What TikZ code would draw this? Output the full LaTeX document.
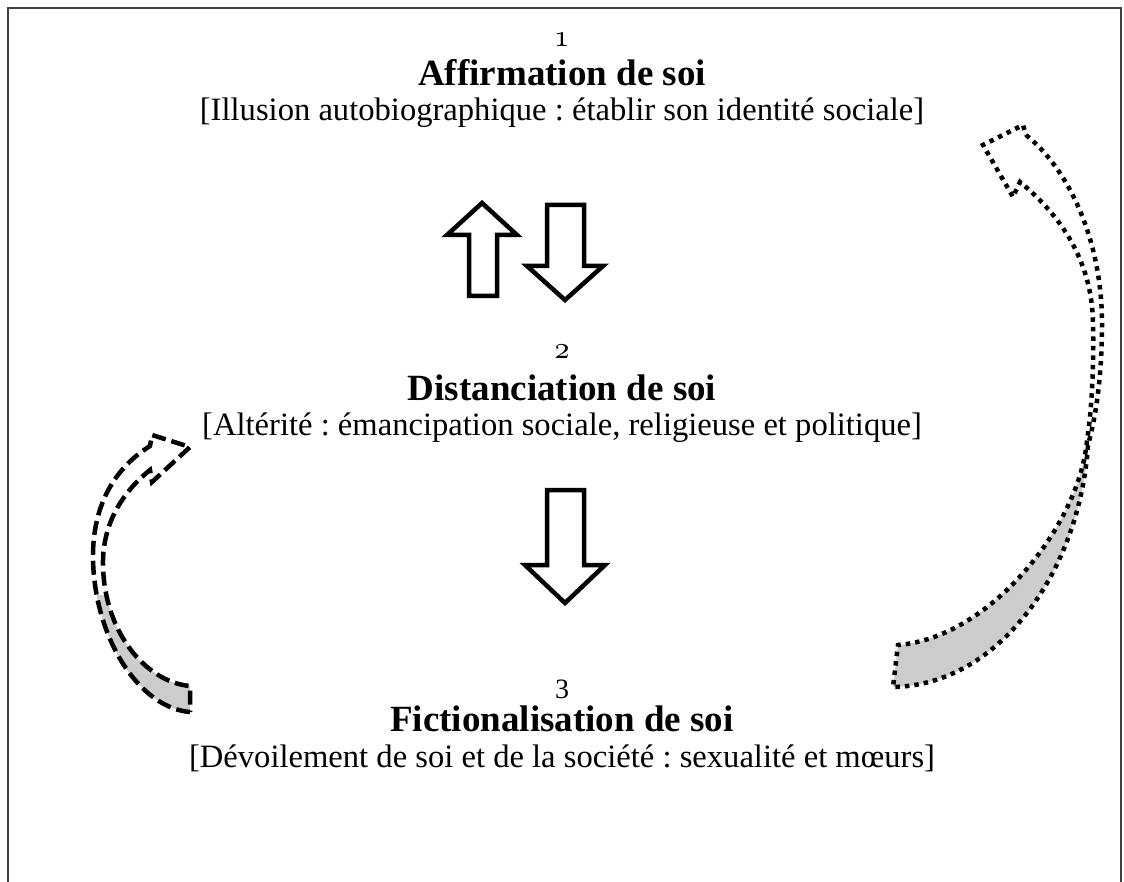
\documentclass[tikz,border=0pt]{standalone}
\usepackage{fontspec}
\setmainfont{Liberation Serif}[BoldFont={Liberation Serif Bold}]
\newfontfamily\oldfig{lmroman10-regular.otf}[Numbers=OldStyle]
\frenchspacing

% outline of the dashed curved arrow on the left
\newcommand\leftbandpath{%
  (190,712) .. controls (140,708) and (95,640) .. (93,560)
  .. controls (92,505) and (115,468) .. (150,446)
  -- (152,435) -- (190,447) -- (152,482) -- (150,470)
  .. controls (125,490) and (104,520) .. (103,560)
  .. controls (102,630) and (145,682) .. (190,686) -- cycle}

% outline of the dotted curved arrow on the right
\newcommand\rightbandpath{%
  (1026,135) .. controls (1075,175) and (1102,250) .. (1102,323)
  .. controls (1102,380) and (1095,420) .. (1088,445)
  .. controls (1080,570) and (1000,685) .. (893,687)
  -- (898,645)
  .. controls (990,638) and (1080,525) .. (1087,440)
  .. controls (1092,410) and (1094,360) .. (1093,323)
  .. controls (1092,260) and (1060,215) .. (1020,182)
  -- (1013,197) -- (983,145) -- (1023,125) -- cycle}

\begin{document}
\begin{tikzpicture}[x=1pt,y=-1pt,
  blockarrow/.style={draw=black,line width=4.5pt,miter limit=10,fill=white},
  framestroke/.style={draw=black!75,line width=1.6pt},
  dashedband/.style={draw=black,line width=4.5pt,dash pattern=on 14pt off 6pt},
  dottedband/.style={draw=black,line width=4.5pt,dash pattern=on 4.5pt off 5pt},
  backface/.style={fill=black!20},
  numtxt/.style={font=\oldfig\fontsize{30}{34}\selectfont,anchor=base},
  lintxt/.style={font=\fontsize{28}{34}\selectfont,anchor=base},
  titletxt/.style={font=\bfseries\fontsize{37}{44}\selectfont,anchor=base},
  bodytxt/.style={font=\fontsize{32.6}{39}\selectfont,anchor=base},
]
\useasboundingbox (0,0) rectangle (1124,882);

% open frame
\draw[framestroke] (8,882) -- (8,8) -- (1121,8) -- (1121,882);

% stage 1
\node[numtxt]   (n1) at (562,47)  {1};
\node[titletxt] (t1) at (562,86)  {Affirmation de soi};
\node[bodytxt]  (b1) at (562,121) {[Illusion autobiographique : établir son identité sociale]};

% stage 2
\node[numtxt]   (n2) at (562,359) {2};
\node[titletxt] (t2) at (562,400) {Distanciation de soi};
\node[bodytxt]  (b2) at (562,435) {[Altérité : émancipation sociale, religieuse et politique]};

% stage 3
\node[lintxt]   (n3) at (562,698) {3};
\node[titletxt] (t3) at (562,731) {Fictionalisation de soi};
\node[bodytxt]  (b3) at (562,767) {[Dévoilement de soi et de la société : sexualité et mœurs]};

% block arrows between stages 1 and 2
\draw[blockarrow] (469,296) -- (469,235) -- (447,235) -- (482,203)
  -- (517,235) -- (497,235) -- (497,296) -- cycle;
\draw[blockarrow] (547,205) -- (584,205) -- (584,266) -- (603,266)
  -- (565,300) -- (527,266) -- (547,266) -- cycle;

% block arrow between stages 2 and 3
\draw[blockarrow] (547,490) -- (584,490) -- (584,565) -- (605,565)
  -- (565,603) -- (525,565) -- (547,565) -- cycle;

% curved arrow, stage 3 back to stage 2
\fill[white] \leftbandpath;
\begin{scope}
  \clip (0,595) rectangle (300,800);
  \fill[backface] \leftbandpath;
\end{scope}
\draw[dashedband] \leftbandpath;

% curved arrow, stage 3 back to stage 1
\fill[white] \rightbandpath;
\begin{scope}
  \clip (850,455) rectangle (1124,800);
  \fill[backface] \rightbandpath;
\end{scope}
\draw[dottedband] \rightbandpath;
\end{tikzpicture}
\end{document}
